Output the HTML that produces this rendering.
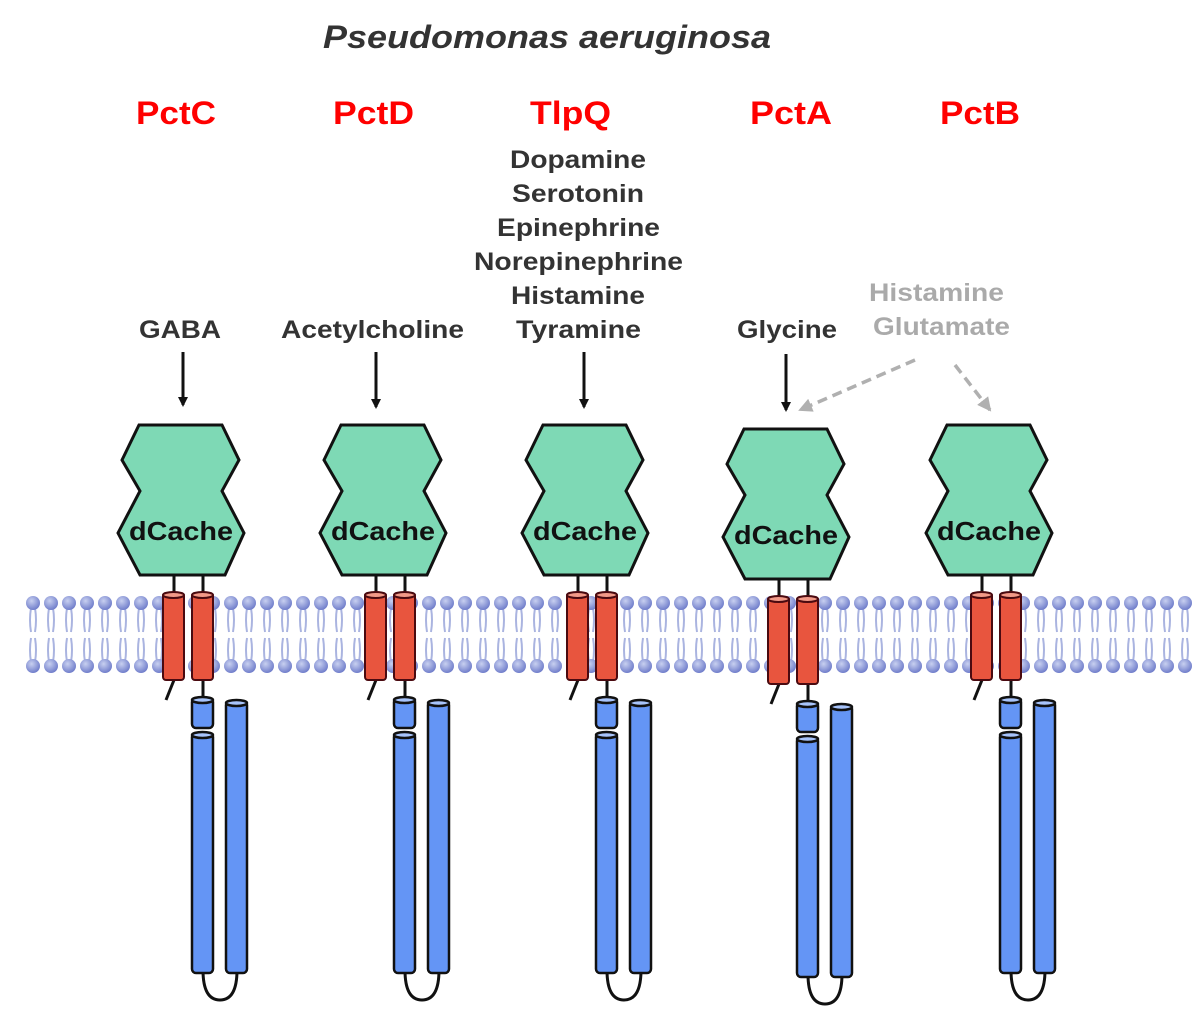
<!DOCTYPE html>
<html><head><meta charset="utf-8"><style>
html,body{margin:0;padding:0;background:#fff;}
svg{display:block;}
</style></head><body>
<svg width="1200" height="1018" viewBox="0 0 1200 1018" xmlns="http://www.w3.org/2000/svg">
<defs>
<radialGradient id="hg" cx="0.4" cy="0.35" r="0.7">
<stop offset="0" stop-color="#c8d0f0"/><stop offset="1" stop-color="#6a78c8"/>
</radialGradient>
<pattern id="mem" x="24" y="590" width="18" height="90" patternUnits="userSpaceOnUse">
<g stroke="#aab4e0" stroke-width="2" fill="none">
<path d="M7 18 q-2 12 0 24"/><path d="M11 18 q2 12 0 24"/>
<path d="M7 72 q-2 -12 0 -24"/><path d="M11 72 q2 -12 0 -24"/>
</g>
<ellipse cx="9" cy="13" rx="7" ry="7" fill="url(#hg)"/>
<ellipse cx="9" cy="76" rx="7" ry="7" fill="url(#hg)"/>
</pattern>
<marker id="ar" markerWidth="10" markerHeight="10" refX="8" refY="5" orient="auto" markerUnits="userSpaceOnUse"><path d="M0 0 L10 5 L0 10 z" fill="#111"/></marker>
<marker id="ag" markerWidth="14" markerHeight="14" refX="12" refY="7" orient="auto" markerUnits="userSpaceOnUse"><path d="M0 0 L14 7 L0 14 z" fill="#b0b0b0"/></marker>
<g id="rec">
<line x1="174" y1="575" x2="174" y2="592" stroke="#111" stroke-width="3"/>
<line x1="203" y1="575" x2="203" y2="700" stroke="#111" stroke-width="3"/>
<line x1="174" y1="680" x2="166" y2="700" stroke="#111" stroke-width="3"/>
<path d="M203 970 q0 30 17 30 q17 0 17 -30" fill="none" stroke="#111" stroke-width="3"/>
<polygon points="139,425 222,425 239,460 222,491 244,533 225,575 140,575 118,533 140,491 122,460" fill="#7ed9b5" stroke="#111" stroke-width="3" stroke-linejoin="miter"/>
<text x="181" y="540" font-family="Liberation Sans,sans-serif" font-weight="bold" font-size="26" text-anchor="middle" fill="#111" textLength="104" lengthAdjust="spacingAndGlyphs">dCache</text>
<g stroke="#4a0a10" stroke-width="2">
<rect x="163" y="593" width="21" height="87" rx="3" fill="#e8553e"/>
<rect x="192" y="593" width="21" height="87" rx="3" fill="#e8553e"/>
<ellipse cx="173.5" cy="595" rx="10.5" ry="3" fill="#f29a88"/>
<ellipse cx="202.5" cy="595" rx="10.5" ry="3" fill="#f29a88"/>
</g>
<g stroke="#111" stroke-width="2.5" fill="#6495f5">
<rect x="192" y="698" width="21" height="30" rx="4"/>
<ellipse cx="202.5" cy="700" rx="10.5" ry="3" fill="#a8c4fb"/>
<rect x="192" y="733" width="21" height="240" rx="4"/>
<ellipse cx="202.5" cy="735" rx="10.5" ry="3" fill="#a8c4fb"/>
<rect x="226" y="701" width="21" height="272" rx="4"/>
<ellipse cx="236.5" cy="703" rx="10.5" ry="3" fill="#a8c4fb"/>
</g>
</g>
</defs>
<rect x="24" y="590" width="1168" height="90" fill="url(#mem)"/>
<use href="#rec"/>
<use href="#rec" transform="translate(202,0)"/>
<use href="#rec" transform="translate(404,0)"/>
<use href="#rec" transform="translate(605,4)"/>
<use href="#rec" transform="translate(808,0)"/>
<g font-family="Liberation Sans,sans-serif" font-weight="bold" lengthAdjust="spacingAndGlyphs">
<text x="323" y="48" font-size="32" font-style="italic" fill="#333" textLength="448" lengthAdjust="spacingAndGlyphs">Pseudomonas aeruginosa</text>
<g font-size="32" fill="#f00">
<text x="136" y="124" textLength="80" lengthAdjust="spacingAndGlyphs">PctC</text>
<text x="333" y="124" textLength="81" lengthAdjust="spacingAndGlyphs">PctD</text>
<text x="530" y="124" textLength="81" lengthAdjust="spacingAndGlyphs">TlpQ</text>
<text x="750" y="124" textLength="82" lengthAdjust="spacingAndGlyphs">PctA</text>
<text x="940" y="124" textLength="80" lengthAdjust="spacingAndGlyphs">PctB</text>
</g>
<g font-size="25" fill="#333">
<text x="510" y="168" textLength="136" lengthAdjust="spacingAndGlyphs">Dopamine</text>
<text x="512" y="202" textLength="132" lengthAdjust="spacingAndGlyphs">Serotonin</text>
<text x="497" y="236" textLength="163" lengthAdjust="spacingAndGlyphs">Epinephrine</text>
<text x="474" y="270" textLength="209" lengthAdjust="spacingAndGlyphs">Norepinephrine</text>
<text x="511" y="304" textLength="134" lengthAdjust="spacingAndGlyphs">Histamine</text>
<text x="516" y="338" textLength="125" lengthAdjust="spacingAndGlyphs">Tyramine</text>
<text x="139" y="338" textLength="82" lengthAdjust="spacingAndGlyphs">GABA</text>
<text x="281" y="338" textLength="183" lengthAdjust="spacingAndGlyphs">Acetylcholine</text>
<text x="737" y="338" textLength="100" lengthAdjust="spacingAndGlyphs">Glycine</text>
<text x="869" y="301" fill="#aaa" textLength="135" lengthAdjust="spacingAndGlyphs">Histamine</text>
<text x="873" y="335" fill="#aaa" textLength="137" lengthAdjust="spacingAndGlyphs">Glutamate</text>
</g>
</g>
<g stroke="#111" stroke-width="3">
<line x1="183" y1="352" x2="183" y2="405" marker-end="url(#ar)"/>
<line x1="376" y1="352" x2="376" y2="407" marker-end="url(#ar)"/>
<line x1="584" y1="352" x2="584" y2="407" marker-end="url(#ar)"/>
<line x1="786" y1="354" x2="786" y2="410" marker-end="url(#ar)"/>
</g>
<g stroke="#b0b0b0" stroke-width="3.5" stroke-dasharray="10,6" fill="none">
<line x1="915" y1="360" x2="800" y2="410" marker-end="url(#ag)"/>
<line x1="955" y1="365" x2="990" y2="410" marker-end="url(#ag)"/>
</g>
</svg>
</body></html>
